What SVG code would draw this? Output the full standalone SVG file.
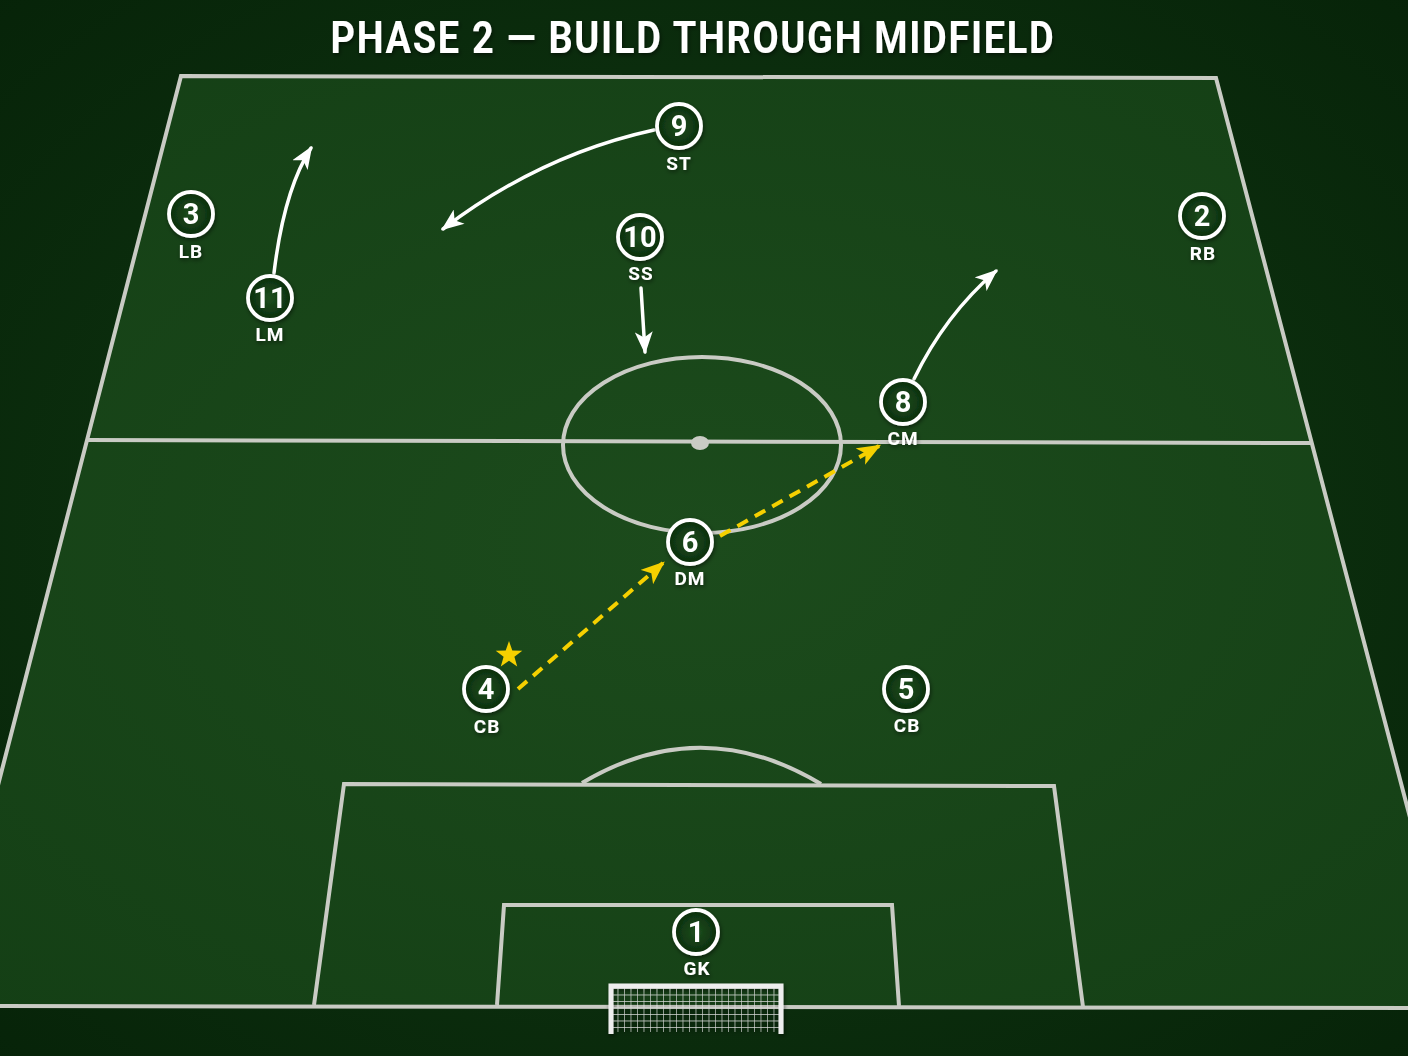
<svg xmlns="http://www.w3.org/2000/svg" width="1408" height="1056" viewBox="0 0 1408 1056">
<defs>
  <radialGradient id="bg" cx="50%" cy="50%" r="75%">
    <stop offset="0" stop-color="#123c14"/>
    <stop offset="1" stop-color="#062208"/>
  </radialGradient>
  <radialGradient id="pitchG" cx="50%" cy="50%" r="70%">
    <stop offset="0" stop-color="#1c4b1c"/>
    <stop offset="1" stop-color="#143f15"/>
  </radialGradient>
  <radialGradient id="disc" cx="50%" cy="50%" r="50%">
    <stop offset="0" stop-color="#1e4e1e"/>
    <stop offset="1" stop-color="#0b2e0d"/>
  </radialGradient>
  <filter id="sh" x="-30%" y="-30%" width="160%" height="160%">
    <feDropShadow dx="1" dy="2" stdDeviation="2" flood-color="#000" flood-opacity="0.5"/>
  </filter>
  <marker id="wa" viewBox="0 0 20 16" refX="18" refY="8" markerWidth="23" markerHeight="18" markerUnits="userSpaceOnUse" orient="auto">
    <path d="M0,0 L20,8 L0,16 L5,8 Z" fill="#ffffff"/>
  </marker>
  <marker id="ya" viewBox="0 0 20 16" refX="18" refY="8" markerWidth="24" markerHeight="19" markerUnits="userSpaceOnUse" orient="auto">
    <path d="M0,0 L20,8 L0,16 L5,8 Z" fill="#f5d000"/>
  </marker>
  <pattern id="net" width="6.5" height="6.5" patternUnits="userSpaceOnUse" x="611" y="988">
    <path d="M0,0 H6.5 M0,0 V6.5" stroke="#dcdcdc" stroke-width="1.2" fill="none"/>
  </pattern>
</defs>
<style>
  .line{fill:none;stroke:#c9cbc4;stroke-width:4;stroke-linejoin:miter}
  .disc{fill:url(#disc);stroke:#ffffff;stroke-width:3.8}
  .num{font-family:Roboto,"Liberation Sans",sans-serif;font-weight:700;font-size:29px;fill:#ffffff;text-anchor:middle}
  .pos{font-family:Roboto,"Liberation Sans",sans-serif;font-weight:700;font-size:19px;fill:#ffffff;text-anchor:middle;letter-spacing:1px}
  .run{fill:none;stroke:#ffffff;stroke-width:3.5;stroke-linecap:round}
  .pass{fill:none;stroke:#f5d000;stroke-width:4;stroke-dasharray:12 8}
  .title{font-family:Roboto,"Liberation Sans",sans-serif;font-weight:700;font-size:45px;fill:#ffffff;text-anchor:middle;letter-spacing:2px}
</style>

<rect x="0" y="0" width="1408" height="1056" fill="url(#bg)"/>

<g id="pitch">
  <polygon points="181,76 1216,78 1460,1008 -59,1006" fill="url(#pitchG)"/>
  <polygon class="line" points="181,76 1216,78 1460,1008 -59,1006"/>
  <line class="line" x1="87" y1="440" x2="1312" y2="443"/>
  <ellipse class="line" cx="702" cy="445" rx="139" ry="88"/>
  <ellipse cx="700" cy="443" rx="9" ry="7" fill="#c9cbc4"/>
  <path class="line" d="M314,1005 L344,784 L1054,786 L1083,1007"/>
  <path class="line" d="M497,1005 L504,905 L892,905 L899,1006"/>
  <path class="line" d="M582,783 Q701,712 821,784"/>
</g>

<g id="goal" filter="url(#sh)">
  <rect x="611" y="988" width="170" height="44" fill="url(#net)"/>
  <path d="M611,1034 L611,986 L781,986 L781,1034" fill="none" stroke="#eeeeee" stroke-width="5"/>
</g>

<g id="title" filter="url(#sh)">
  <text class="title" x="693" y="53" textLength="725" lengthAdjust="spacingAndGlyphs">PHASE 2 — BUILD THROUGH MIDFIELD</text>
</g>

<g id="connectors">
  <path class="run" d="M274,273 Q284,190 311,148" marker-end="url(#wa)"/>
  <path class="run" d="M654,130 Q540,155 443,229" marker-end="url(#wa)"/>
  <path class="run" d="M641,288 L645,352" marker-end="url(#wa)"/>
  <path class="run" d="M914,379 Q945,315 996,271" marker-end="url(#wa)"/>
  <path class="pass" d="M518,689 L663,563" marker-end="url(#ya)"/>
  <path class="pass" d="M720,536 L879,446" marker-end="url(#ya)"/>
</g>

<g id="star">
  <polygon fill="#f5d000" points="509,641 512.3,650.4 522.3,650.7 514.4,656.8 517.2,666.4 509,660.8 500.8,666.4 503.6,656.8 495.7,650.7 505.7,650.4"/>
</g>

<g id="p9" filter="url(#sh)"><circle class="disc" cx="679" cy="126" r="22"/><text class="num" x="679" y="136">9</text><text class="pos" x="679" y="170">ST</text></g>
<g id="p3" filter="url(#sh)"><circle class="disc" cx="191" cy="214" r="22"/><text class="num" x="191" y="224">3</text><text class="pos" x="191" y="258">LB</text></g>
<g id="p10" filter="url(#sh)"><circle class="disc" cx="640" cy="237" r="22"/><text class="num" x="640" y="247">10</text><text class="pos" x="641" y="280">SS</text></g>
<g id="p2" filter="url(#sh)"><circle class="disc" cx="1202" cy="216" r="22"/><text class="num" x="1202" y="226">2</text><text class="pos" x="1203" y="260">RB</text></g>
<g id="p11" filter="url(#sh)"><circle class="disc" cx="270" cy="298" r="22"/><text class="num" x="270" y="308">11</text><text class="pos" x="270" y="341">LM</text></g>
<g id="p8" filter="url(#sh)"><circle class="disc" cx="903" cy="402" r="22"/><text class="num" x="903" y="412">8</text><text class="pos" x="903" y="445">CM</text></g>
<g id="p6" filter="url(#sh)"><circle class="disc" cx="690" cy="542" r="22"/><text class="num" x="690" y="552">6</text><text class="pos" x="690" y="585">DM</text></g>
<g id="p4" filter="url(#sh)"><circle class="disc" cx="486" cy="689" r="22"/><text class="num" x="486" y="699">4</text><text class="pos" x="487" y="733">CB</text></g>
<g id="p5" filter="url(#sh)"><circle class="disc" cx="906" cy="689" r="22"/><text class="num" x="906" y="699">5</text><text class="pos" x="907" y="732">CB</text></g>
<g id="p1" filter="url(#sh)"><circle class="disc" cx="696" cy="932" r="22"/><text class="num" x="696" y="942">1</text><text class="pos" x="697" y="975">GK</text></g>
</svg>
